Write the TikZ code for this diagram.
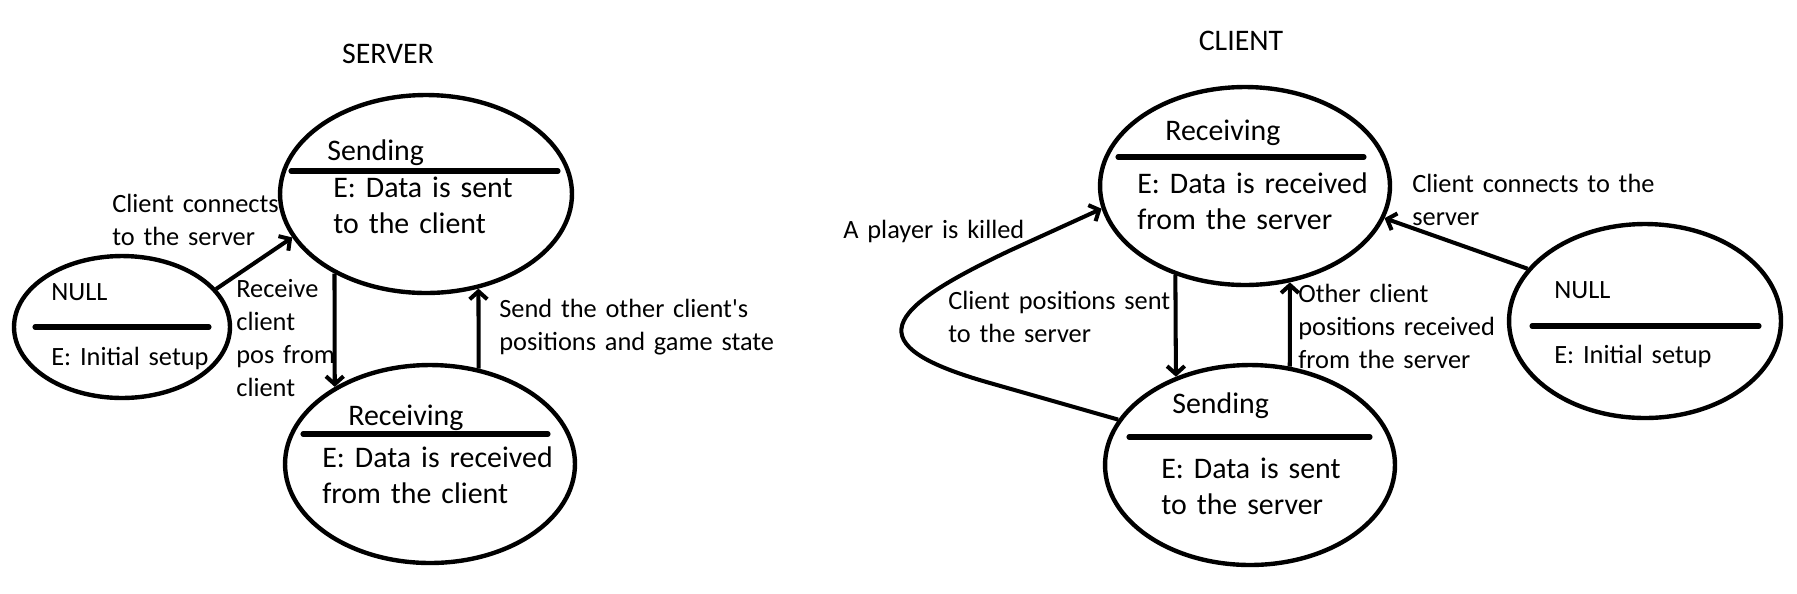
\documentclass[tikz,border=0pt]{standalone}
\usepackage{fontspec}
\setmainfont{Carlito}[Ligatures=TeXOff]
\usetikzlibrary{arrows.meta,shapes.geometric}
\begin{document}
\begin{tikzpicture}[x=0.02cm,y=-0.02cm,
  state/.style={ellipse, draw, line width=2.5pt, inner sep=0pt},
  bar/.style={line width=2.9pt, line cap=round},
  big/.style={font=\fontsize{17}{20.5}\selectfont, inner sep=0pt, text width=7cm, align=left},
  small/.style={font=\fontsize{15}{18.8}\selectfont, inner sep=0pt, text width=7cm, align=left},
  title/.style={font=\fontsize{17}{20.5}\selectfont, inner sep=0pt},
  arr/.style={line width=2.3pt, -{Straight Barb[length=4.5pt,width=10pt]}}]
\useasboundingbox[fill=white] (0,0) rectangle (1797,593);

% ---------------- SERVER ----------------
\node[title, anchor=base] (servertitle) at (388,63) {SERVER};

\node[state, minimum width=5.84cm, minimum height=3.96cm] (sendS) at (426,194) {};
\node[big, anchor=base west] (sendSname) at (327,160) {Sending};
\draw[bar] (291,171) -- (558,171);
\node[big, anchor=base west] (sendSact) at (333,197) {E: Data is sent\\to the client};

\node[state, minimum width=5.8cm, minimum height=3.96cm] (recvS) at (430,464) {};
\node[big, anchor=base west] (recvSname) at (348,425) {Receiving};
\draw[bar] (303,434) -- (548,434);
\node[big, anchor=base west] (recvSact) at (322,467) {E: Data is received\\from the client};

\node[state, minimum width=4.32cm, minimum height=2.84cm] (nullS) at (122,327) {};
\node[small, anchor=base west] (nullSname) at (51,300) {NULL};
\draw[bar] (35,327) -- (209,327);
\node[small, anchor=base west] (nullSact) at (51,365) {E: Initial setup};

\draw[arr] (nullS.22) -- (sendS.198);
\draw[arr] (sendS.221) -- (recvS.141);
\draw[arr] (recvS.63) -- (sendS.299);

\node[small, anchor=base west] (lblS1) at (112,212) {Client connects\\to the server};
\node[small, anchor=base west] (lblS2) at (236,297) {Receive\\client\\pos from\\client};
\node[small, anchor=base west] (lblS3) at (499,317) {Send the other client's\\positions and game state};

% ---------------- CLIENT ----------------
\node[title, anchor=base] (clienttitle) at (1241,50) {CLIENT};

\node[state, minimum width=5.8cm, minimum height=3.96cm] (recvC) at (1245,186) {};
\node[big, anchor=base west] (recvCname) at (1165,140) {Receiving};
\draw[bar] (1118,157) -- (1364,157);
\node[big, anchor=base west] (recvCact) at (1137,193) {E: Data is received\\from the server};

\node[state, minimum width=5.8cm, minimum height=4.0cm] (sendC) at (1250,465) {};
\node[big, anchor=base west] (sendCname) at (1172,413) {Sending};
\draw[bar] (1129,437) -- (1370,437);
\node[big, anchor=base west] (sendCact) at (1161,478) {E: Data is sent\\to the server};

\node[state, minimum width=5.44cm, minimum height=3.88cm] (nullC) at (1645,321) {};
\node[small, anchor=base west] (nullCname) at (1554,298) {NULL};
\draw[bar] (1532,326) -- (1759,326);
\node[small, anchor=base west] (nullCact) at (1554,363) {E: Initial setup};

\draw[arr] (recvC.232) -- (sendC.130);
\draw[arr] (sendC.68) -- (recvC.295);
\draw[arr] (nullC.156) -- (recvC.347);
\draw[arr] (sendC.161) -- (990,383) .. controls (855,345) and (884,310) .. (1011,250) -- (recvC.189);

\node[small, anchor=base west] (lblC1) at (843,238) {A player is killed};
\node[small, anchor=base west] (lblC2) at (1412,192) {Client connects to the\\server};
\node[small, anchor=base west] (lblC3) at (948,309) {Client positions sent\\to the server};
\node[small, anchor=base west] (lblC4) at (1298,302) {Other client\\positions received\\from the server};
\end{tikzpicture}
\end{document}
